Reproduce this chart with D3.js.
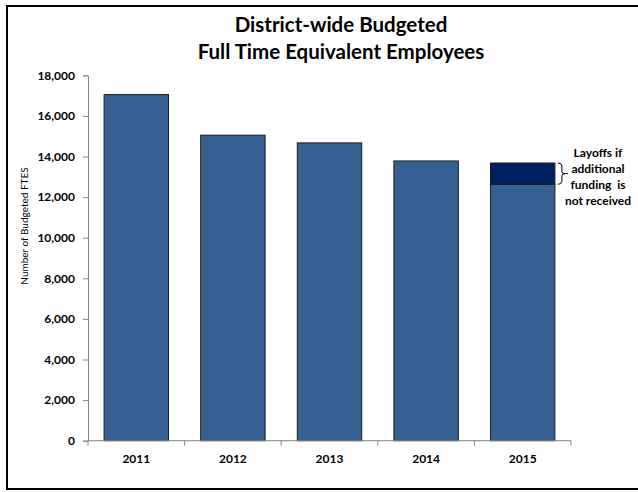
<!DOCTYPE html>
<html>
<head>
<meta charset="utf-8">
<script src="https://cdn.jsdelivr.net/npm/d3@7"></script>
<style>
  html, body { margin: 0; padding: 0; background: #fff; }
  svg { display: block; font-family: Lato, "Open Sans", sans-serif; }
</style>
</head>
<body>
<svg id="chart" width="638" height="492"></svg>
<script>
// Budgeted FTEs per fiscal year
const years = ["2011", "2012", "2013", "2014", "2015"];
const retainedFte = [17050, 15050, 14670, 13780, 12630];
const layoffFte = [0, 0, 0, 0, 1050];
const yTicks = [0, 2000, 4000, 6000, 8000, 10000, 12000, 14000, 16000, 18000];
const titleLines = ["District-wide Budgeted", "Full Time Equivalent Employees"];
const noteLines = ["Layoffs if", "additional", "funding  is", "not received"];
const yTitle = "Number of Budgeted FTES";

const svg = d3.select("#chart");

// outer frame
svg.append("rect")
  .attr("x", 7).attr("y", 6)
  .attr("width", 640).attr("height", 483)
  .attr("fill", "none").attr("stroke", "#000").attr("stroke-width", 2);

const x = d3.scaleBand().domain(years).range([88, 571])
  .paddingInner(1 / 3).paddingOuter(1 / 6);
const y = d3.scaleLinear().domain([0, 18000]).range([440.7, 75.3]);

// title
svg.append("g").selectAll("text").data(titleLines).join("text")
  .attr("x", 341).attr("y", (d, i) => 32 + i * 27)
  .attr("text-anchor", "middle")
  .attr("font-size", 20.5).attr("font-weight", "bold").attr("fill", "#000")
  .text(d => d);

// y axis
const yAxis = svg.append("g").attr("transform", "translate(88,0)")
  .call(d3.axisLeft(y).tickValues(yTicks).tickSize(5).tickPadding(8)
    .tickFormat(d3.format(",")));
yAxis.select(".domain").attr("stroke", "#868686");
yAxis.selectAll(".tick line").attr("stroke", "#868686");
yAxis.selectAll(".tick text")
  .attr("font-family", "Lato, sans-serif").attr("font-size", 12)
  .attr("font-weight", "bold").attr("fill", "#000");

svg.append("text")
  .attr("transform", "translate(28,226) rotate(-90)")
  .attr("text-anchor", "middle")
  .attr("font-size", 10).attr("fill", "#000")
  .text(yTitle);

// bars: retained staff plus layoff segment on top
const rows = years.map((yr, i) => ({ yr, base: retainedFte[i], extra: layoffFte[i] }));

svg.append("g").selectAll("rect").data(rows).join("rect")
  .attr("x", d => x(d.yr)).attr("width", x.bandwidth())
  .attr("y", d => y(d.base)).attr("height", d => y(0) - y(d.base))
  .attr("fill", "#376092").attr("stroke", "#1a1a1a").attr("stroke-width", 1);

svg.append("g").selectAll("rect").data(rows.filter(d => d.extra > 0)).join("rect")
  .attr("x", d => x(d.yr)).attr("width", x.bandwidth())
  .attr("y", d => y(d.base + d.extra)).attr("height", d => y(d.base) - y(d.base + d.extra))
  .attr("fill", "#002060").attr("stroke", "#1a1a1a").attr("stroke-width", 1);

// x axis with ticks between categories
const xAxis = svg.append("g").attr("transform", `translate(0,${y(0)})`);
xAxis.append("line")
  .attr("x1", x.range()[0]).attr("x2", x.range()[1])
  .attr("stroke", "#868686");
const bounds = d3.range(years.length + 1).map(i => x.range()[0] + i * x.step());
xAxis.selectAll("line.tk").data(bounds).join("line").attr("class", "tk")
  .attr("x1", d => d).attr("x2", d => d).attr("y1", 0).attr("y2", 5)
  .attr("stroke", "#868686");
xAxis.selectAll("text").data(years).join("text")
  .attr("x", d => x(d) + x.bandwidth() / 2).attr("y", 22)
  .attr("text-anchor", "middle")
  .attr("font-size", 12).attr("font-weight", "bold").attr("fill", "#000")
  .text(d => d);

// brace beside the layoff segment
const last = rows[rows.length - 1];
const bx = x(last.yr) + x.bandwidth() + 3;
const yTop = y(last.base + last.extra), yBot = y(last.base), yMid = (yTop + yBot) / 2;
svg.append("path")
  .attr("d", `M${bx},${yTop} Q${bx + 4},${yTop} ${bx + 4},${yTop + 3} L${bx + 4},${yMid - 2}
    Q${bx + 4},${yMid} ${bx + 7},${yMid} Q${bx + 4},${yMid} ${bx + 4},${yMid + 2}
    L${bx + 4},${yBot - 3} Q${bx + 4},${yBot} ${bx},${yBot}`)
  .attr("fill", "none").attr("stroke", "#000").attr("stroke-width", 1);
svg.append("line")
  .attr("x1", bx + 7).attr("x2", bx + 10).attr("y1", yMid).attr("y2", yMid)
  .attr("stroke", "#000");

svg.append("g").selectAll("text").data(noteLines).join("text")
  .attr("x", 598).attr("y", (d, i) => 157 + i * 16)
  .attr("text-anchor", "middle")
  .attr("font-size", 12).attr("font-weight", "bold").attr("fill", "#000")
  .attr("xml:space", "preserve").style("white-space", "pre")
  .text(d => d);
</script>
</body>
</html>
